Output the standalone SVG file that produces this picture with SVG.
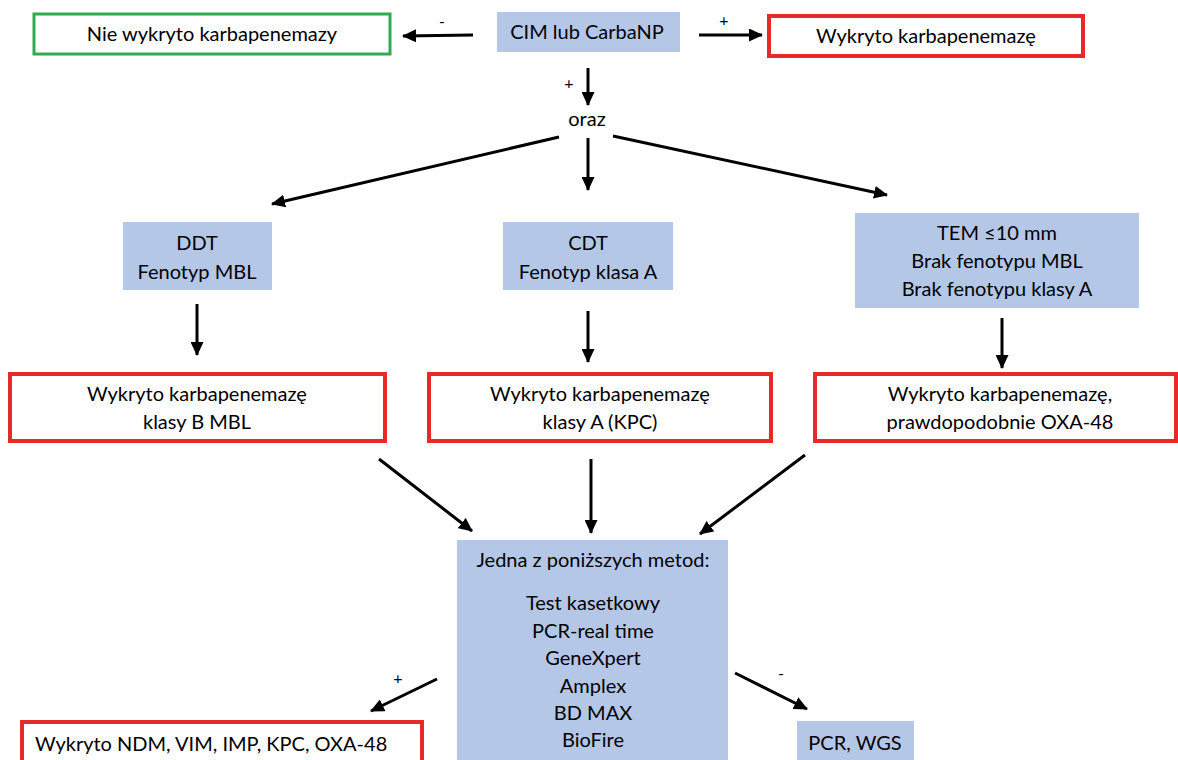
<svg xmlns="http://www.w3.org/2000/svg" width="1178" height="760" viewBox="0 0 1178 760">
<defs>
<marker id="ah" markerUnits="userSpaceOnUse" markerWidth="15" markerHeight="13" refX="13" refY="6.5" orient="auto">
<path d="M0,0 L14,6.5 L0,13 Z" fill="#000"/>
</marker>
<style>
.t{font-family:Lato,"Carlito","Liberation Sans",sans-serif;font-size:20px;fill:#000;text-anchor:middle}
.s{font-family:Lato,"Liberation Sans",sans-serif;font-size:16px;fill:#000;text-anchor:middle}
.blue{fill:#B4C7E7;stroke:none}
.red{fill:#fff;stroke:#E62A2A;stroke-width:4}
.green{fill:#fff;stroke:#2EAA4F;stroke-width:3}
.c line{stroke:#000;stroke-width:3;marker-end:url(#ah)}
</style>
</defs>
<rect width="1178" height="760" fill="#fff"/>

<g id="n-neg">
<rect class="green" x="34" y="14" width="356" height="40"/>
<text class="t" x="212" y="41">Nie wykryto karbapenemazy</text>
</g>
<g id="n-cim">
<rect class="blue" x="497" y="12" width="183" height="40"/>
<text class="t" x="587" y="39">CIM lub CarbaNP</text>
</g>
<g id="n-pos">
<rect class="red" x="769" y="16" width="314" height="40"/>
<text class="t" x="926" y="43">Wykryto karbapenemazę</text>
</g>
<g id="n-oraz">
<text class="t" x="587" y="126">oraz</text>
</g>
<g id="n-ddt">
<rect class="blue" x="123" y="222" width="149" height="68"/>
<text class="t" x="197" y="250">DDT</text>
<text class="t" x="197" y="279">Fenotyp MBL</text>
</g>
<g id="n-cdt">
<rect class="blue" x="503" y="222" width="170" height="68"/>
<text class="t" x="588" y="250">CDT</text>
<text class="t" x="588" y="279">Fenotyp klasa A</text>
</g>
<g id="n-tem">
<rect class="blue" x="855" y="213" width="284" height="95"/>
<text class="t" x="997" y="240">TEM ≤10 mm</text>
<text class="t" x="997" y="268">Brak fenotypu MBL</text>
<text class="t" x="997" y="296">Brak fenotypu klasy A</text>
</g>
<g id="n-mbl">
<rect class="red" x="10" y="374" width="375" height="67"/>
<text class="t" x="197" y="401">Wykryto karbapenemazę</text>
<text class="t" x="197" y="429">klasy B MBL</text>
</g>
<g id="n-kpc">
<rect class="red" x="429" y="374" width="342" height="67"/>
<text class="t" x="600" y="401">Wykryto karbapenemazę</text>
<text class="t" x="600" y="429">klasy A (KPC)</text>
</g>
<g id="n-oxa">
<rect class="red" x="815" y="374" width="361" height="67"/>
<text class="t" x="1000" y="401">Wykryto karbapenemazę,</text>
<text class="t" x="1000" y="429">prawdopodobnie OXA-48</text>
</g>
<g id="n-methods">
<rect class="blue" x="457" y="540" width="271" height="225"/>
<text class="t" x="593" y="567">Jedna z poniższych metod:</text>
<text class="t" x="593" y="610">Test kasetkowy</text>
<text class="t" x="593" y="638">PCR-real time</text>
<text class="t" x="593" y="665">GeneXpert</text>
<text class="t" x="593" y="693">Amplex</text>
<text class="t" x="593" y="720">BD MAX</text>
<text class="t" x="593" y="747">BioFire</text>
</g>
<g id="n-ndm">
<rect class="red" x="22" y="722" width="400" height="50"/>
<text class="t" x="35" y="751" style="text-anchor:start">Wykryto NDM, VIM, IMP, KPC, OXA-48</text>
</g>
<g id="n-pcr">
<rect class="blue" x="797" y="721" width="117" height="45"/>
<text class="t" x="855" y="750">PCR, WGS</text>
</g>

<g id="connectors" class="c">
<line x1="473" y1="35" x2="403" y2="36"/>
<line x1="699" y1="35" x2="762" y2="35"/>
<line x1="588" y1="68" x2="588" y2="105"/>
<line x1="559" y1="137" x2="272" y2="204"/>
<line x1="588" y1="138" x2="588" y2="190"/>
<line x1="613" y1="136" x2="887" y2="195"/>
<line x1="197" y1="304" x2="197" y2="355"/>
<line x1="588" y1="311" x2="588" y2="362"/>
<line x1="1002" y1="318" x2="1002" y2="368"/>
<line x1="379" y1="459" x2="472" y2="531"/>
<line x1="591" y1="459" x2="591" y2="533"/>
<line x1="805" y1="455" x2="700" y2="534"/>
<line x1="437" y1="679" x2="371" y2="711"/>
<line x1="735" y1="673" x2="807" y2="709"/>
</g>
<g id="labels">
<text class="s" x="442" y="27">-</text>
<text class="s" x="724" y="26">+</text>
<text class="s" x="569" y="89">+</text>
<text class="s" x="398" y="684">+</text>
<text class="s" x="781" y="679">-</text>
</g>
</svg>
